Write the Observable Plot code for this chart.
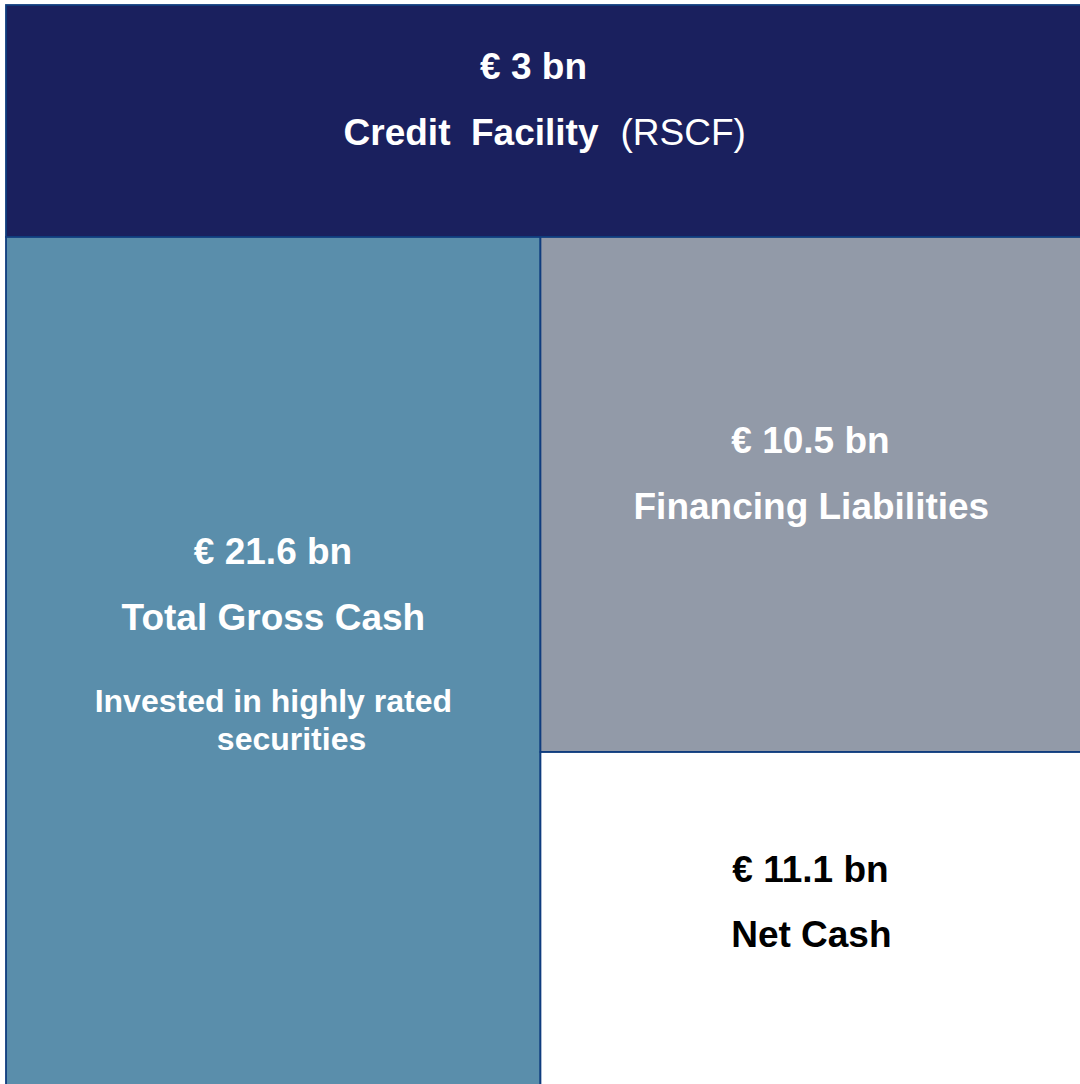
<!DOCTYPE html>
<html>
<head>
<meta charset="utf-8">
<script src="https://cdn.jsdelivr.net/npm/d3@7"></script>
<script src="https://cdn.jsdelivr.net/npm/@observablehq/plot@0.6"></script>
<style>
  html, body { margin: 0; padding: 0; background: #ffffff; }
  #chart svg { display: block; }
</style>
</head>
<body>
<div id="chart"></div>
<script>
// ---- Data (€ bn) ----
const blockNames = ["Credit  Facility", "Total Gross Cash", "Financing Liabilities", "Net Cash"];
const blockValues = [3, 21.6, 10.5, 11.1];
const blockNotes = ["(RSCF)", "Invested in highly rated", "", ""];
const blockNotes2 = ["", "securities", "", ""];

// ---- Layout (fractions of the drawing area) ----
const blockBox = [
  {x1: 0, x2: 1, y1: 0, y2: 0.2138},
  {x1: 0, x2: 0.4967, y1: 0.2138, y2: 1},
  {x1: 0.4967, x2: 1, y1: 0.2138, y2: 0.6885},
  {x1: 0.4967, x2: 1, y1: 0.6885, y2: 1}
];
const amountPos = [[0.4898, 0.0673], [0.2477, 0.5143], [0.7472, 0.4129], [0.7472, 0.8074]];
const namePos = [[0.5502, 0.129], [0.248, 0.576], [0.748, 0.4737], [0.748, 0.8682]];
const notePos = [[0.5706, 0.129], [0.248, 0.6516], null, null];
const note2Pos = [null, [0.2649, 0.6866], null, null];

// ---- Styles ----
const fills = ["#1a205e", "#5a8eab", "#929aa8", "#ffffff"];
const inks = ["#ffffff", "#ffffff", "#ffffff", "#000000"];
const edge = "#0f3c7e";

const fmt = v => `€ ${v} bn`;

const rects = blockNames.map((name, i) => ({name, ...blockBox[i], fill: fills[i]}));
const amounts = blockValues.map((v, i) => ({text: fmt(v), x: amountPos[i][0], y: amountPos[i][1], ink: inks[i]}));
const names = blockNames.map((n, i) => ({text: n, x: namePos[i][0], y: namePos[i][1], ink: inks[i]}));
const centeredNames = names.filter((d, i) => i > 0);
const creditName = names.filter((d, i) => i === 0);
const rscf = [{text: blockNotes[0], x: notePos[0][0], y: notePos[0][1], ink: inks[0]}];
const notes = [];
blockNotes.forEach((t, i) => { if (i > 0 && t) notes.push({text: t, x: notePos[i][0], y: notePos[i][1], ink: inks[i]}); });
blockNotes2.forEach((t, i) => { if (t) notes.push({text: t, x: note2Pos[i][0], y: note2Pos[i][1], ink: inks[i]}); });

const font = "'Liberation Sans', Arial, Helvetica, sans-serif";

const chart = Plot.plot({
  width: 1080,
  height: 1084,
  margin: 0,
  x: {domain: [0, 1], range: [6, 1082], axis: null},
  y: {domain: [0, 1], range: [5, 1090], axis: null},
  color: {type: "identity"},
  style: {background: "#ffffff", fontFamily: font, whiteSpace: "pre", overflow: "hidden"},
  marks: [
    Plot.rect(rects, {x1: "x1", x2: "x2", y1: "y1", y2: "y2", fill: "fill", stroke: edge, strokeWidth: 1.8}),
    Plot.text(amounts, {x: "x", y: "y", text: "text", fill: "ink", fontSize: 37, fontWeight: "bold", lineAnchor: "bottom"}),
    Plot.text(centeredNames, {x: "x", y: "y", text: "text", fill: "ink", fontSize: 37, fontWeight: "bold", lineAnchor: "bottom"}),
    Plot.text(creditName, {x: "x", y: "y", text: "text", fill: "ink", fontSize: 37, fontWeight: "bold", lineAnchor: "bottom", textAnchor: "end"}),
    Plot.text(rscf, {x: "x", y: "y", text: "text", fill: "ink", fontSize: 37, fontWeight: "normal", lineAnchor: "bottom", textAnchor: "start"}),
    Plot.text(notes, {x: "x", y: "y", text: "text", fill: "ink", fontSize: 32, fontWeight: "bold", lineAnchor: "bottom"})
  ]
});
document.getElementById("chart").appendChild(chart);
</script>
</body>
</html>
